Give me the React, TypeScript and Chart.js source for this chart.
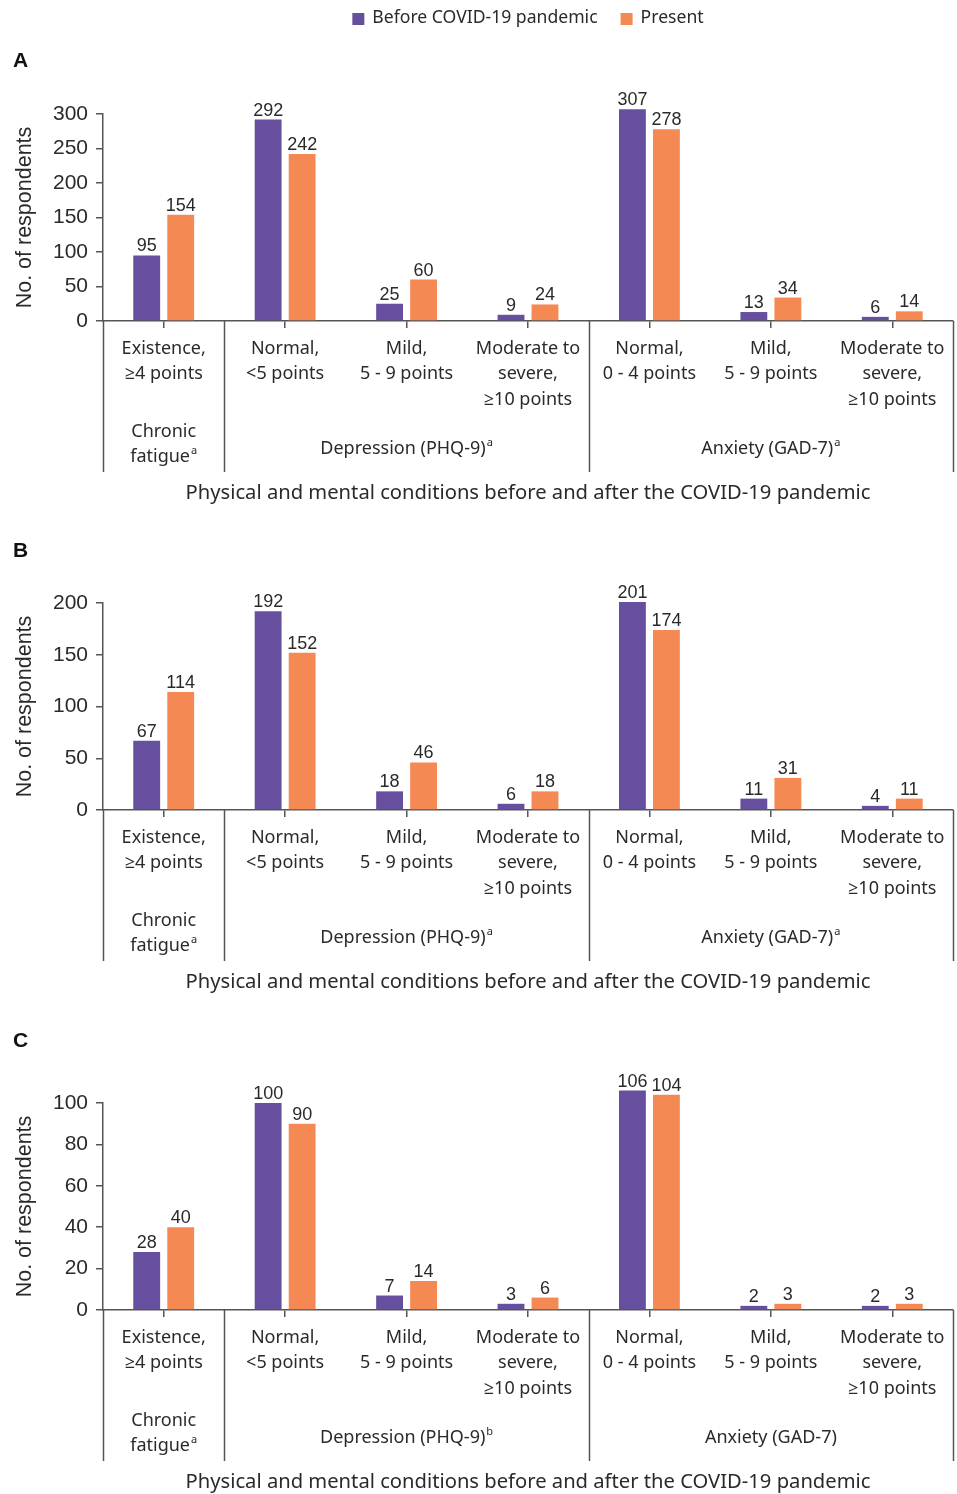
import React, { useEffect, useRef } from 'react';
import { Chart, registerables } from 'chart.js';
Chart.register(...registerables);

const seriesNames = ['Before COVID-19 pandemic', 'Present'];
const seriesColors = ['#664f9f', '#f58954'];
const categoryLabels = [
  ['Existence,', '≥4 points'],
  ['Normal,', '<5 points'],
  ['Mild,', '5 - 9 points'],
  ['Moderate to', 'severe,', '≥10 points'],
  ['Normal,', '0 - 4 points'],
  ['Mild,', '5 - 9 points'],
  ['Moderate to', 'severe,', '≥10 points'],
];
const groupSizes = [1, 3, 3];
const groupNames = [['Chronic', 'fatigue'], ['Depression (PHQ-9)'], ['Anxiety (GAD-7)']];
const groupSupA = ['a', 'a', 'a'];
const groupSupB = ['a', 'a', 'a'];
const groupSupC = ['a', 'b', ''];
const beforeA = [95, 292, 25, 9, 307, 13, 6];
const presentA = [154, 242, 60, 24, 278, 34, 14];
const beforeB = [67, 192, 18, 6, 201, 11, 4];
const presentB = [114, 152, 46, 18, 174, 31, 11];
const beforeC = [28, 100, 7, 3, 106, 2, 2];
const presentC = [40, 90, 14, 6, 104, 3, 3];
const yMaxA = 300, yStepA = 50;
const yMaxB = 200, yStepB = 50;
const yMaxC = 100, yStepC = 20;
const xTitle = 'Physical and mental conditions before and after the COVID-19 pandemic';
const yTitle = 'No. of respondents';

const SANS = '"Noto Sans", "Open Sans", sans-serif';
const ARIAL = '"Liberation Sans", Arial, sans-serif';
const TEXT = '#2a2a2a';
const LINE = '#555';

type PanelProps = {
  letter: string;
  top: number;
  height: number;
  padTop: number;
  letterY: number;
  before: number[];
  present: number[];
  yMax: number;
  yStep: number;
  sups: string[];
  legend: boolean;
};

function Panel(p: PanelProps) {
  const ref = useRef<HTMLCanvasElement | null>(null);
  useEffect(() => {
    if (!ref.current) return;
    const xAxisHeight = p.height - (p.padTop + 207);
    const decor = {
      id: 'decor',
      afterDraw(chart: any) {
        const ctx = chart.ctx as CanvasRenderingContext2D;
        const xs = chart.scales.x;
        const area = chart.chartArea;
        const axisY = area.bottom;
        ctx.save();
        // value labels
        ctx.fillStyle = TEXT;
        ctx.font = '18px ' + ARIAL;
        ctx.textAlign = 'center';
        ctx.textBaseline = 'alphabetic';
        chart.data.datasets.forEach((ds: any, di: number) => {
          const meta = chart.getDatasetMeta(di);
          meta.data.forEach((el: any, i: number) => {
            ctx.fillText(String(ds.data[i]), el.x, el.y - 4);
          });
        });
        // separators
        const n = chart.data.labels.length;
        const cw = (xs.right - xs.left) / n;
        ctx.strokeStyle = LINE;
        ctx.lineWidth = 1.5;
        const bounds = [0];
        let acc = 0;
        groupSizes.forEach((s) => { acc += s; bounds.push(acc); });
        bounds.forEach((b) => {
          const x = Math.round(xs.left + b * cw) + 0.5;
          ctx.beginPath();
          ctx.moveTo(x, axisY);
          ctx.lineTo(x, axisY + 151);
          ctx.stroke();
        });
        // group labels
        ctx.fillStyle = TEXT;
        ctx.textBaseline = 'middle';
        groupNames.forEach((lines, gi) => {
          const cx = xs.left + ((bounds[gi] + bounds[gi + 1]) / 2) * cw;
          const y0 = lines.length > 1 ? axisY + 111 : axisY + 128;
          lines.forEach((line, li) => {
            const y = y0 + li * 25;
            const sup = li === lines.length - 1 ? p.sups[gi] : '';
            ctx.font = '18px ' + SANS;
            const w = ctx.measureText(line).width;
            ctx.font = '11px ' + SANS;
            const sw = sup ? ctx.measureText(sup).width + 1 : 0;
            const left = cx - (w + sw) / 2;
            ctx.textAlign = 'left';
            ctx.font = '18px ' + SANS;
            ctx.fillText(line, left, y);
            if (sup) {
              ctx.font = '11px ' + SANS;
              ctx.fillText(sup, left + w + 1, y - 6);
            }
          });
        });
        // x title
        ctx.textAlign = 'center';
        ctx.font = '20.2px ' + SANS;
        ctx.fillText(xTitle, (xs.left + xs.right) / 2, axisY + 172);
        // y title
        ctx.save();
        ctx.translate(25, (area.top + area.bottom) / 2);
        ctx.rotate(-Math.PI / 2);
        ctx.font = '21.5px ' + ARIAL;
        ctx.textAlign = 'center';
        ctx.textBaseline = 'middle';
        ctx.fillText(yTitle, 0, 0);
        ctx.restore();
        // panel letter
        ctx.textAlign = 'left';
        ctx.textBaseline = 'alphabetic';
        ctx.font = 'bold 21px ' + ARIAL;
        ctx.fillStyle = '#111';
        ctx.fillText(p.letter, 13, p.letterY);
        // legend
        if (p.legend) {
          ctx.font = '17.6px ' + SANS;
          const box = 12, gap = 8, spacing = 23;
          const widths = chart.data.datasets.map((d: any) => ctx.measureText(d.label).width);
          const total = widths.reduce((a: number, w: number) => a + box + gap + w, 0) + spacing * (widths.length - 1);
          let x = (xs.left + xs.right) / 2 - total / 2;
          const ly = 19;
          chart.data.datasets.forEach((d: any, di: number) => {
            ctx.fillStyle = d.backgroundColor;
            ctx.fillRect(x, ly - 6, box, box);
            x += box + gap;
            ctx.fillStyle = TEXT;
            ctx.textAlign = 'left';
            ctx.textBaseline = 'middle';
            ctx.fillText(d.label, x, ly - 1);
            x += widths[di] + spacing;
          });
        }
        ctx.restore();
      },
    };
    const chart = new Chart(ref.current, {
      type: 'bar',
      data: {
        labels: categoryLabels,
        datasets: [
          { label: seriesNames[0], data: p.before, backgroundColor: seriesColors[0], clip: false as any },
          { label: seriesNames[1], data: p.present, backgroundColor: seriesColors[1], clip: false as any },
        ],
      },
      options: {
        animation: false,
        responsive: false,
        maintainAspectRatio: false,
        devicePixelRatio: 1,
        layout: { padding: { top: p.padTop, right: 4, left: 0, bottom: 0 } },
        datasets: { bar: { categoryPercentage: 0.56, barPercentage: 0.79 } },
        plugins: { legend: { display: false }, tooltip: { enabled: false }, title: { display: false } },
        scales: {
          x: {
            offset: true,
            grid: { offset: false, drawOnChartArea: false, drawTicks: true, tickLength: 7, color: LINE, lineWidth: 1.5 },
            border: { display: true, color: LINE, width: 1.5 },
            ticks: {
              color: TEXT,
              padding: 8,
              maxRotation: 0,
              autoSkip: false,
              font: { family: SANS, size: 18, lineHeight: '25.5px' as any },
            },
            afterFit: (s: any) => { s.height = xAxisHeight; },
          },
          y: {
            min: 0,
            max: p.yMax,
            ticks: { stepSize: p.yStep, color: TEXT, padding: 8, font: { family: ARIAL, size: 21 } },
            grid: { drawOnChartArea: false, drawTicks: true, tickLength: 7, color: LINE, lineWidth: 1.5 },
            border: { display: true, color: LINE, width: 1.5 },
            afterFit: (s: any) => { s.width = 103; },
          },
        },
      },
      plugins: [decor],
    });
    return () => chart.destroy();
  }, []);
  return (
    <canvas
      ref={ref}
      width={957}
      height={p.height}
      style={{ position: 'absolute', left: 0, top: p.top, width: 957, height: p.height }}
    />
  );
}

export default function App() {
  return (
    <div style={{ position: 'absolute', left: 0, top: 0, width: 957, height: 1494, background: '#fff' }}>
      <Panel letter="A" top={0} height={510} padTop={114} letterY={67} before={beforeA} present={presentA}
        yMax={yMaxA} yStep={yStepA} sups={groupSupA} legend={true} />
      <Panel letter="B" top={510} height={490} padTop={93} letterY={47} before={beforeB} present={presentB}
        yMax={yMaxB} yStep={yStepB} sups={groupSupB} legend={false} />
      <Panel letter="C" top={1000} height={494} padTop={103} letterY={47} before={beforeC} present={presentC}
        yMax={yMaxC} yStep={yStepC} sups={groupSupC} legend={false} />
    </div>
  );
}
